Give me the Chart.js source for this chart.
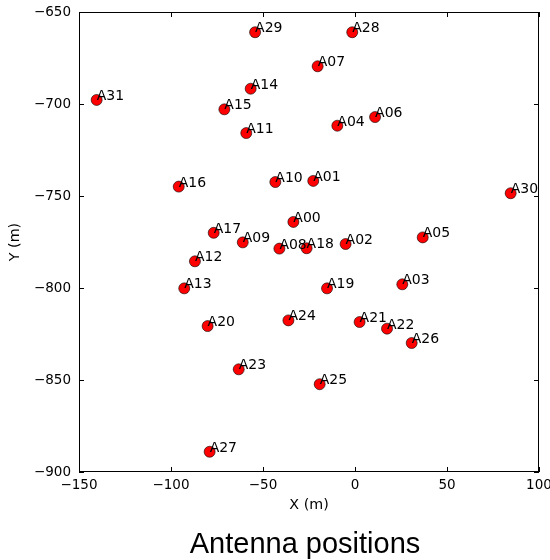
<!DOCTYPE html>
<html>
<head>
<meta charset="utf-8">
<title>Antenna positions</title>
<script src="https://cdn.jsdelivr.net/npm/chart.js@4.4.1/dist/chart.umd.min.js"></script>
<style>
  html, body { margin: 0; padding: 0; background: #fff; }
  #wrap { width: 550px; height: 560px; }
</style>
</head>
<body>
<div id="wrap"><canvas id="chart" width="550" height="560"></canvas></div>
<script>
// antenna layout (metres)
const antennaNames = ['A00', 'A01', 'A02', 'A03', 'A04', 'A05', 'A06', 'A07',
  'A08', 'A09', 'A10', 'A11', 'A12', 'A13', 'A14', 'A15',
  'A16', 'A17', 'A18', 'A19', 'A20', 'A21', 'A22', 'A23',
  'A24', 'A25', 'A26', 'A27', 'A28', 'A29', 'A30', 'A31'];
const xPositions = [-33.5, -22.7, -5.1, 25.7, -9.6, 36.8, 10.9, -20.3,
  -41.1, -61.0, -43.3, -59.1, -87.0, -92.8, -56.7, -71.0,
  -95.8, -76.8, -26.3, -15.2, -80.1, 2.5, 17.4, -63.2,
  -36.2, -19.2, 30.8, -79.0, -1.5, -54.3, 84.6, -140.4];
const yPositions = [-764.1, -741.8, -776.1, -798.0, -711.8, -772.5, -707.1, -679.5,
  -778.6, -775.2, -742.4, -715.8, -785.5, -800.2, -691.7, -702.9,
  -744.9, -770.0, -778.4, -800.2, -820.7, -818.5, -822.1, -844.2,
  -817.6, -852.3, -829.9, -889.0, -661.0, -661.0, -748.5, -697.8];
const xTicks = [-150, -100, -50, 0, 50, 100];
const yTicks = [-900, -850, -800, -750, -700, -650];

const tickFont = { family: 'DejaVu Sans', size: 13.5 };
const fmt = v => (v < 0 ? '\u2212' + Math.abs(v) : String(v));

// frame, inward ticks on all sides, point labels and titles
const decorations = {
  id: 'decorations',
  afterDatasetsDraw(chart) {
    const { ctx, chartArea: a, scales } = chart;
    const tl = 5;
    ctx.save();
    ctx.strokeStyle = '#000';
    ctx.lineWidth = 1;
    ctx.strokeRect(Math.round(a.left) + 0.5, Math.round(a.top) + 0.5,
      Math.round(a.right - a.left) - 1, Math.round(a.bottom - a.top) - 1);
    ctx.beginPath();
    xTicks.forEach(v => {
      const x = Math.round(scales.x.getPixelForValue(v)) + 0.5;
      ctx.moveTo(x, a.bottom); ctx.lineTo(x, a.bottom - tl);
      ctx.moveTo(x, a.top); ctx.lineTo(x, a.top + tl);
    });
    yTicks.forEach(v => {
      const y = Math.round(scales.y.getPixelForValue(v)) + 0.5;
      ctx.moveTo(a.left, y); ctx.lineTo(a.left + tl, y);
      ctx.moveTo(a.right, y); ctx.lineTo(a.right - tl, y);
    });
    ctx.stroke();

    // labels sit with their baseline on the marker centre
    ctx.fillStyle = '#000';
    ctx.font = '14px "DejaVu Sans"';
    ctx.textAlign = 'left';
    ctx.textBaseline = 'alphabetic';
    chart.getDatasetMeta(0).data.forEach((pt, i) => {
      ctx.fillText(antennaNames[i], pt.x, pt.y);
    });

    ctx.font = '14.3px "DejaVu Sans"';
    ctx.textAlign = 'center';
    ctx.textBaseline = 'middle';
    ctx.fillText('X (m)', (a.left + a.right) / 2, 505);
    ctx.save();
    ctx.translate(15, (a.top + a.bottom) / 2);
    ctx.rotate(-Math.PI / 2);
    ctx.fillText('Y (m)', 0, 0);
    ctx.restore();

    ctx.font = '29px "Liberation Sans"';
    ctx.textBaseline = 'alphabetic';
    ctx.fillText('Antenna positions', 305, 553);
    ctx.restore();
  }
};

const points = xPositions.map((x, i) => ({ x, y: yPositions[i] }));

new Chart(document.getElementById('chart'), {
  type: 'scatter',
  data: {
    datasets: [{
      data: points,
      pointRadius: 5.5,
      pointHoverRadius: 5.5,
      backgroundColor: '#ff0000',
      borderColor: '#000',
      borderWidth: 0.6
    }]
  },
  options: {
    responsive: false,
    animation: false,
    events: [],
    layout: { padding: { left: 0, top: 12, right: 11, bottom: 0 } },
    plugins: { legend: { display: false }, tooltip: { enabled: false }, title: { display: false } },
    scales: {
      x: {
        type: 'linear',
        min: -150,
        max: 100,
        afterBuildTicks: s => { s.ticks = xTicks.map(v => ({ value: v })); },
        afterFit: s => { s.height = 88; s.paddingLeft = 0; s.paddingRight = 0; },
        grid: { drawOnChartArea: false, drawTicks: false },
        border: { display: false },
        ticks: { color: '#000', font: tickFont, padding: 5, maxRotation: 0, autoSkip: false, callback: fmt }
      },
      y: {
        type: 'linear',
        min: -900,
        max: -650,
        afterBuildTicks: s => { s.ticks = yTicks.map(v => ({ value: v })); },
        afterFit: s => { s.width = 79; s.paddingTop = 0; s.paddingBottom = 0; },
        grid: { drawOnChartArea: false, drawTicks: false },
        border: { display: false },
        ticks: { color: '#000', font: tickFont, padding: 8, autoSkip: false, callback: fmt }
      }
    }
  },
  plugins: [decorations]
});
</script>
</body>
</html>
